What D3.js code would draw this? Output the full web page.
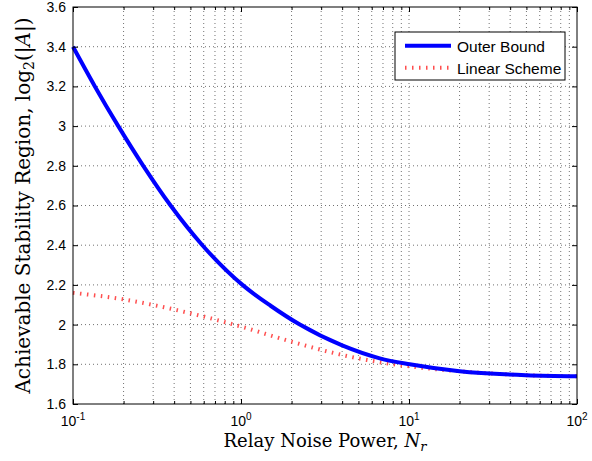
<!DOCTYPE html>
<html>
<head>
<meta charset="utf-8">
<script src="https://cdn.jsdelivr.net/npm/d3@7"></script>
<style>
  body { margin: 0; background: #fff; }
  svg text { fill: #000; }
</style>
</head>
<body>
<div id="chart"></div>
<script>
// values
const outerN = [0.1, 0.135, 0.186, 0.262, 0.381, 0.589, 1.02, 1.5, 2.24, 4, 6.7, 10.1, 20, 50, 100];
const outerBound = [3.4, 3.2, 3.0, 2.8, 2.6, 2.4, 2.2, 2.095, 2.0, 1.895, 1.83, 1.8, 1.765, 1.745, 1.74];
const linearN = [0.1, 0.2, 0.3, 0.5, 1, 2, 4, 5.6, 10, 20, 50, 100];
const linearScheme = [2.16, 2.127, 2.099, 2.057, 1.99, 1.914, 1.847, 1.822, 1.79, 1.765, 1.745, 1.74];
const yTicks = [1.6, 1.8, 2, 2.2, 2.4, 2.6, 2.8, 3, 3.2, 3.4, 3.6];
const xMajor = [0.1, 1, 10, 100];
const xExp = ["-1", "0", "1", "2"];
const legendNames = ["Outer Bound", "Linear Scheme"];

const W = 592, H = 461;
const margin = {top: 7, right: 15, bottom: 57, left: 73};
const width = W - margin.left - margin.right;
const height = H - margin.top - margin.bottom;

const svg = d3.select("#chart").append("svg")
    .attr("width", W)
    .attr("height", H);
const g = svg.append("g")
    .attr("transform", `translate(${margin.left}, ${margin.top})`);

const x = d3.scaleLog().domain([0.1, 100]).range([0, width]);
const y = d3.scaleLinear().domain([1.6, 3.6]).range([height, 0]);

// minor ticks on log axis
let xMinor = [];
for (let d = 0; d < 3; d++) {
    for (let k = 2; k <= 9; k++) xMinor.push(k * Math.pow(10, d - 1));
}

// grid
const grid = g.append("g").attr("stroke", "#000").attr("stroke-width", 1)
    .attr("stroke-dasharray", "1,3").attr("opacity", 0.55);
xMinor.concat(xMajor.slice(1, 3)).forEach(v => {
    grid.append("line").attr("x1", x(v)).attr("x2", x(v)).attr("y1", 0).attr("y2", height);
});
yTicks.slice(1, -1).forEach(v => {
    grid.append("line").attr("x1", 0).attr("x2", width).attr("y1", y(v)).attr("y2", y(v));
});

// lines
function makeLine(xs) {
    return d3.line()
        .x(function(d, i) { return x(xs[i]); })
        .y(function(d) { return y(d); })
        .curve(d3.curveMonotoneX);
}

const redStyle = {stroke: "#ff3030", width: 4, dash: "1.5,5.5", opacity: 0.85};
const blueStyle = {stroke: "#0000ff", width: 4, dash: null, opacity: 1};

g.append("path")
    .datum(linearScheme)
    .attr("fill", "none")
    .attr("stroke", redStyle.stroke)
    .attr("stroke-width", redStyle.width)
    .attr("stroke-dasharray", redStyle.dash)
    .attr("opacity", redStyle.opacity)
    .attr("d", makeLine(linearN));

g.append("path")
    .datum(outerBound)
    .attr("fill", "none")
    .attr("stroke", blueStyle.stroke)
    .attr("stroke-width", blueStyle.width)
    .attr("d", makeLine(outerN));

// axes: ticks pointing inward on all four sides
const tickFont = "14px 'Liberation Sans', Arial, sans-serif";
const yAxisL = g.append("g").call(d3.axisLeft(y).tickValues(yTicks).tickSizeInner(-5).tickSizeOuter(0)
    .tickFormat(d => d3.format("")(+d.toFixed(1))).tickPadding(7));
g.append("g").attr("transform", `translate(${width},0)`)
    .call(d3.axisRight(y).tickValues(yTicks).tickSizeInner(-5).tickSizeOuter(0).tickFormat(""));
g.append("g").attr("transform", `translate(0,${height})`)
    .call(d3.axisBottom(x).tickValues(xMajor).tickSizeInner(-5).tickSizeOuter(0).tickFormat(""));
g.append("g").attr("transform", `translate(0,${height})`)
    .call(d3.axisBottom(x).tickValues(xMinor).tickSizeInner(-3).tickSizeOuter(0).tickFormat(""));
g.append("g")
    .call(d3.axisTop(x).tickValues(xMajor).tickSizeInner(-5).tickSizeOuter(0).tickFormat(""));
g.append("g")
    .call(d3.axisTop(x).tickValues(xMinor).tickSizeInner(-3).tickSizeOuter(0).tickFormat(""));

g.selectAll(".domain").remove();
g.selectAll(".tick line").attr("stroke", "#000");
yAxisL.selectAll("text").style("font", tickFont).attr("fill", "#000");

// box
g.append("rect").attr("width", width).attr("height", height)
    .attr("fill", "none").attr("stroke", "#000").attr("stroke-width", 1);

// x tick labels with superscripts
xMajor.forEach((v, i) => {
    const t = g.append("text")
        .attr("x", x(v))
        .attr("y", height + 22)
        .attr("text-anchor", "middle")
        .style("font", tickFont);
    t.append("tspan").text("10");
    t.append("tspan").attr("dy", -6).style("font-size", "10px").text(xExp[i]);
});

// axis titles
const serif = "'DejaVu Serif', 'Liberation Serif', serif";
const xt = svg.append("text")
    .attr("x", margin.left + width / 2)
    .attr("y", 447)
    .attr("text-anchor", "middle")
    .style("font", "18px " + serif);
xt.append("tspan").text("Relay Noise Power, ");
xt.append("tspan").style("font-style", "italic").text("N");
xt.append("tspan").style("font-style", "italic").style("font-size", "13px").attr("dy", 4).text("r");

const yt = svg.append("text")
    .attr("transform", `translate(30, ${margin.top + height / 2}) rotate(-90)`)
    .attr("text-anchor", "middle")
    .style("font", "20px " + serif);
yt.append("tspan").text("Achievable Stability Region, log");
yt.append("tspan").style("font-size", "14px").attr("dy", 4).text("2");
yt.append("tspan").attr("dy", -4).text("(|");
yt.append("tspan").style("font-style", "italic").text("A");
yt.append("tspan").text("|)");

// legend
const lg = g.append("g").attr("transform", `translate(${395 - margin.left}, ${32 - margin.top})`);
lg.append("rect").attr("width", 170).attr("height", 48)
    .attr("fill", "#fff").attr("stroke", "#000").attr("stroke-width", 1);
const legendStyles = [blueStyle, redStyle];
legendNames.forEach((name, i) => {
    const yy = 13.7 + i * 22;
    lg.append("line").attr("x1", 10).attr("x2", 56).attr("y1", yy).attr("y2", yy)
        .attr("stroke", legendStyles[i].stroke)
        .attr("stroke-width", legendStyles[i].width)
        .attr("stroke-dasharray", legendStyles[i].dash)
        .attr("opacity", legendStyles[i].opacity);
    lg.append("text").attr("x", 62).attr("y", yy + 5.8)
        .style("font", "15.5px 'Liberation Sans', Arial, sans-serif").text(name);
});
</script>
</body>
</html>
